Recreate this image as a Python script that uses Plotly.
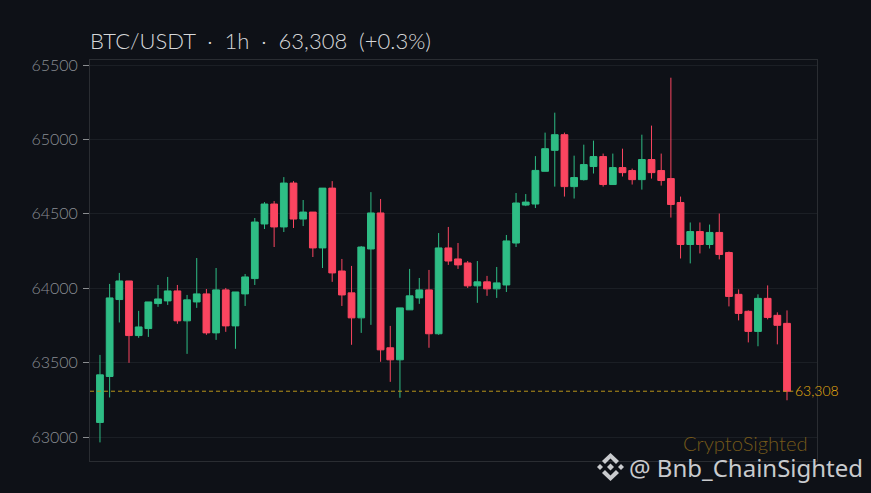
"""BTC/USDT 1h candlesticks on a dark background."""

import plotly.graph_objects as go

candle_index = list(range(72))

open_prices = [
    63098, 63407, 63924, 64049, 63682, 63729, 63897, 63915, 63982, 63781, 63908, 63962,
    63700, 63989, 63747, 63962, 64065, 64432, 64566, 64412, 64707, 64465, 64512, 64271,
    64673, 64116, 63969, 63801, 64264, 64506, 63600, 63519, 63855, 63935, 63989, 63694,
    64271, 64197, 64170, 64016, 64043, 63996, 64022, 64304, 64559, 64566, 64786, 64927,
    65032, 64683, 64730, 64818, 64885, 64697, 64811, 64791, 64730, 64865, 64791, 64737,
    64576, 64294, 64381, 64294, 64375, 64240, 63959, 63845, 63710, 63932, 63818, 63764,
]
close_prices = [
    63418, 63935, 64049, 63682, 63740, 63908, 63928, 63982, 63781, 63922, 63962, 63700,
    63989, 63747, 63975, 64076, 64445, 64566, 64412, 64707, 64465, 64512, 64271, 64673,
    64103, 63955, 63801, 64277, 64506, 63586, 63519, 63868, 63949, 63989, 63694, 64271,
    64183, 64157, 64016, 64043, 63996, 64036, 64318, 64573, 64579, 64792, 64938, 65032,
    64683, 64744, 64831, 64885, 64697, 64811, 64777, 64730, 64865, 64777, 64724, 64563,
    64294, 64381, 64294, 64375, 64227, 63945, 63831, 63710, 63932, 63804, 63751, 63308,
]
high_prices = [
    63552, 64029, 64103, 64049, 63848, 63908, 64022, 64076, 64022, 63955, 64203, 63995,
    64136, 64002, 63975, 64096, 64472, 64579, 64586, 64747, 64720, 64593, 64512, 64673,
    64720, 64197, 64150, 64283, 64646, 64600, 63747, 63868, 64130, 64069, 64123, 64371,
    64412, 64304, 64183, 64183, 64083, 64143, 64358, 64640, 64633, 64888, 65046, 65180,
    65046, 64891, 64965, 64992, 64905, 64905, 64938, 64804, 65032, 65093, 64905, 65415,
    64616, 64442, 64442, 64428, 64502, 64247, 63992, 63851, 63959, 64019, 63838, 63851,
]
low_prices = [
    62964, 63266, 63770, 63499, 63667, 63673, 63875, 63888, 63761, 63559, 63868, 63687,
    63653, 63707, 63593, 63881, 64022, 64398, 64277, 64378, 64405, 64418, 64210, 64136,
    64043, 63881, 63620, 63700, 63754, 63506, 63371, 63264, 63855, 63895, 63600, 63687,
    64157, 64130, 64002, 63902, 63949, 63935, 63975, 64277, 64552, 64539, 64786, 64683,
    64616, 64603, 64724, 64771, 64683, 64697, 64751, 64697, 64663, 64737, 64690, 64475,
    64200, 64167, 64234, 64267, 64194, 63878, 63784, 63636, 63610, 63791, 63623, 63247,
]

y_ticks = [63000, 63500, 64000, 64500, 65000, 65500]
last_price = 63308

BG = "#0e1117"
GREEN = "#2ebd85"
RED = "#fb4560"
GOLD = "#b8941a"
LIGHT = "#c9cbce"

# plot area in window pixels, annotations and the logo go through these
LEFT, RIGHT, TOP, BOTTOM = 90, 817, 60, 461


def px_x(x):
    return (x - LEFT) / (RIGHT - LEFT)


def px_y(y):
    return (BOTTOM - y) / (BOTTOM - TOP)


fig = go.Figure()

fig.add_trace(
    go.Candlestick(
        x=candle_index,
        open=open_prices,
        high=high_prices,
        low=low_prices,
        close=close_prices,
        increasing=dict(line=dict(color=GREEN, width=1), fillcolor=GREEN),
        decreasing=dict(line=dict(color=RED, width=1), fillcolor=RED),
        whiskerwidth=0,
        showlegend=False,
    )
)

# dashed last-price line, stops short of the label
fig.add_trace(
    go.Scatter(
        x=[candle_index[0] - 1.03, candle_index[-1] + 0.65],
        y=[last_price, last_price],
        mode="lines",
        line=dict(color=GOLD, width=1, dash="4px 3px"),
        showlegend=False,
        hoverinfo="skip",
    )
)

fig.update_layout(
    width=871,
    height=493,
    margin=dict(l=LEFT, r=871 - RIGHT, t=TOP, b=493 - BOTTOM),
    paper_bgcolor=BG,
    plot_bgcolor=BG,
    showlegend=False,
    hovermode=False,
    boxgap=0.3,
    boxgroupgap=0,
    font=dict(family="Lato, sans-serif", color="#7b7f85"),
    title=dict(
        text="BTC/USDT  ·  1h  ·  63,308  (+0.3%)",
        x=90 / 871,
        xanchor="left",
        y=1 - 41 / 493,
        yanchor="middle",
        font=dict(family="Lato, sans-serif", size=22, weight=300, color="#d6d8da"),
    ),
)

fig.update_xaxes(
    range=[-1.03, 74.1],
    rangeslider_visible=False,
    showticklabels=False,
    ticks="",
    showgrid=False,
    zeroline=False,
    showline=True,
    mirror=True,
    linecolor="#2a2d32",
    linewidth=1,
)
fig.update_yaxes(
    range=[62839, 65534],
    tickvals=y_ticks,
    ticktext=[str(v) for v in y_ticks],
    ticks="outside",
    ticklen=6,
    tickwidth=1,
    tickcolor="#8a8d90",
    ticklabelstandoff=2,
    tickfont=dict(family="Lato, sans-serif", size=16, weight=300, color="#8a8e94"),
    showgrid=True,
    gridcolor="#1b1f25",
    gridwidth=1,
    zeroline=False,
    showline=True,
    mirror=True,
    linecolor="#2a2d32",
    linewidth=1,
)

fig.add_annotation(
    x=px_x(794), y=px_y(390), xref="paper", yref="paper",
    text="63,308", showarrow=False, xanchor="left", yanchor="middle",
    xshift=-1, font=dict(family="Lato, sans-serif", size=14, weight=300, color="#e8ae10"),
)
fig.add_annotation(
    x=px_x(808), y=px_y(443), xref="paper", yref="paper",
    text="CryptoSighted", showarrow=False, xanchor="right", yanchor="middle",
    xshift=2, font=dict(family="Lato, sans-serif", size=20.2, weight=300, color="#75591a"),
)
fig.add_annotation(
    x=px_x(862), y=px_y(467), xref="paper", yref="paper",
    text="@ Bnb_ChainSighted", showarrow=False, xanchor="right", yanchor="middle",
    xshift=3, font=dict(family="Noto Sans, sans-serif", size=24, color=LIGHT),
)


# Binance mark beside the handle
def px_path(points):
    coords = [f"{px_x(x):.5f},{px_y(y):.5f}" for x, y in points]
    return "M" + "L".join(coords) + "Z"


logo_parts = [
    [(597, 467), (600, 464), (603, 467), (600, 470)],
    [(618, 467), (621, 464), (624, 467), (621, 470)],
    [(607, 467), (610.5, 463.5), (614, 467), (610.5, 470.5)],
    [(610.5, 453), (619, 461), (616, 464), (610.5, 458.5), (605, 464), (602, 461)],
    [(610.5, 481), (602, 473), (605, 470), (610.5, 475.5), (616, 470), (619, 473)],
]
for part in logo_parts:
    fig.add_shape(
        type="path", xref="paper", yref="paper", path=px_path(part),
        fillcolor=LIGHT, line=dict(width=0),
    )

fig.write_html(
    "out.html",
    config={"displayModeBar": False},
    post_script="document.body.style.margin='0';",
)
